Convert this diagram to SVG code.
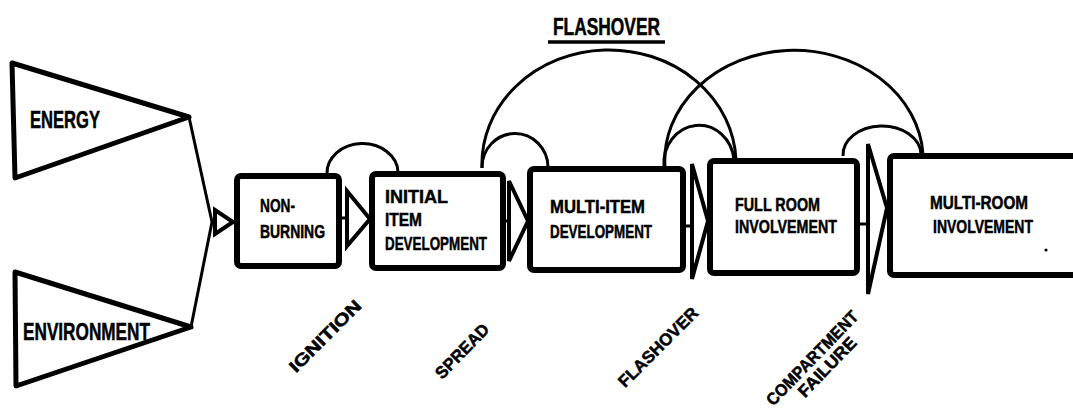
<svg xmlns="http://www.w3.org/2000/svg" width="1073" height="415" viewBox="0 0 1073 415">
<style>
.box{fill:#fff;stroke:#000;stroke-width:6}
.src{fill:#fff;stroke:#000;stroke-width:5;stroke-linejoin:round}
.arc{fill:none;stroke:#000;stroke-width:3}
.ln{fill:none;stroke:#000;stroke-width:3}
.tri{fill:#fff;stroke:#000;stroke-width:4;stroke-linejoin:miter}
text{font-family:"Liberation Sans",Arial,sans-serif;font-weight:bold;fill:#000;stroke:#000;stroke-width:0.5}
.t{font-size:19px}
.lab{font-size:17px;text-anchor:middle}
</style>
<rect width="1073" height="415" fill="#fff"/>

<g id="title">
<text x="553" y="35" font-size="23" textLength="107" lengthAdjust="spacingAndGlyphs">FLASHOVER</text>
<line x1="548" y1="42" x2="665" y2="42" stroke="#000" stroke-width="3.5"/>
</g>

<g id="connectors">
<path class="arc" d="M327,174 A35,29 0 0 1 398,172"/>
<path class="arc" d="M482,168 A33,34 0 0 1 548,167"/>
<path class="arc" d="M664,167 A35,38 0 0 1 734,160"/>
<path class="arc" d="M843,156 A39,29 0 0 1 921,154"/>
<path class="arc" d="M482,168 A127,114 0 0 1 736,160"/>
<path class="arc" d="M665,167 A129,110 0 0 1 923,154"/>
<path class="ln" d="M189,117 L212,222 L191,327"/>
<path class="ln" d="M212,222 L236,222"/>
<path class="tri" d="M215,210 L215,234 L233,222 Z" stroke-width="6"/>
<path class="ln" d="M339,218 L348,218"/>
<path class="tri" d="M347,191 L347,246 L370,219 Z"/>
<path class="ln" d="M503,221 L510,221"/>
<path class="tri" d="M509,181 L509,261 L528,221 Z"/>
<path class="ln" d="M683,226 L693,226"/>
<path class="tri" d="M692,164 L692,279 L708,221 Z"/>
<path class="ln" d="M857,224 L868,224"/>
<path class="tri" d="M868,144 L868,294 L887,208 Z"/>
</g>

<g id="energy">
<polygon class="src" points="12,63 15,178 189,117"/>
<text x="30" y="128" font-size="23" textLength="70" lengthAdjust="spacingAndGlyphs">ENERGY</text>
</g>

<g id="environment">
<polygon class="src" points="15,272 16,386 191,327"/>
<text x="23" y="340" font-size="24" textLength="127" lengthAdjust="spacingAndGlyphs">ENVIRONMENT</text>
</g>

<g id="non-burning">
<rect class="box" x="237" y="176" width="102" height="90" rx="4"/>
<text class="t" x="260" y="212" textLength="35" lengthAdjust="spacingAndGlyphs">NON-</text>
<text class="t" x="260" y="238" textLength="65" lengthAdjust="spacingAndGlyphs">BURNING</text>
</g>

<g id="initial-item-development">
<rect class="box" x="372" y="174" width="131" height="94" rx="4"/>
<text class="t" x="385" y="203" textLength="63" lengthAdjust="spacingAndGlyphs">INITIAL</text>
<text class="t" x="385" y="226" textLength="37" lengthAdjust="spacingAndGlyphs">ITEM</text>
<text class="t" x="385" y="250" textLength="102" lengthAdjust="spacingAndGlyphs">DEVELOPMENT</text>
</g>

<g id="multi-item-development">
<rect class="box" x="530" y="169" width="153" height="101" rx="4"/>
<text class="t" x="550" y="213" textLength="95" lengthAdjust="spacingAndGlyphs">MULTI-ITEM</text>
<text class="t" x="550" y="238" textLength="102" lengthAdjust="spacingAndGlyphs">DEVELOPMENT</text>
</g>

<g id="full-room-involvement">
<rect class="box" x="710" y="161" width="147" height="112" rx="4"/>
<text class="t" x="735" y="211" textLength="85" lengthAdjust="spacingAndGlyphs">FULL ROOM</text>
<text class="t" x="735" y="233" textLength="102" lengthAdjust="spacingAndGlyphs">INVOLVEMENT</text>
</g>

<g id="multi-room-involvement">
<rect class="box" x="890" y="156" width="190" height="119" rx="4"/>
<text class="t" x="930" y="209" textLength="98" lengthAdjust="spacingAndGlyphs">MULTI-ROOM</text>
<text class="t" x="933" y="233" textLength="100" lengthAdjust="spacingAndGlyphs">INVOLVEMENT</text>
<circle cx="1046" cy="250" r="1.6" fill="#000"/>
</g>

<g id="labels">
<text class="lab" transform="translate(325,336) rotate(-45)" y="6" textLength="94" lengthAdjust="spacingAndGlyphs">IGNITION</text>
<text class="lab" transform="translate(462,351) rotate(-46)" y="6" textLength="69" lengthAdjust="spacingAndGlyphs">SPREAD</text>
<text class="lab" transform="translate(658,347) rotate(-45)" y="6" textLength="105" lengthAdjust="spacingAndGlyphs">FLASHOVER</text>
<g transform="translate(812,358) rotate(-46)">
<text class="lab" x="0" y="6" textLength="124" lengthAdjust="spacingAndGlyphs">COMPARTMENT</text>
<text class="lab" x="4" y="23" textLength="76" lengthAdjust="spacingAndGlyphs">FAILURE</text>
</g>
</g>
</svg>
